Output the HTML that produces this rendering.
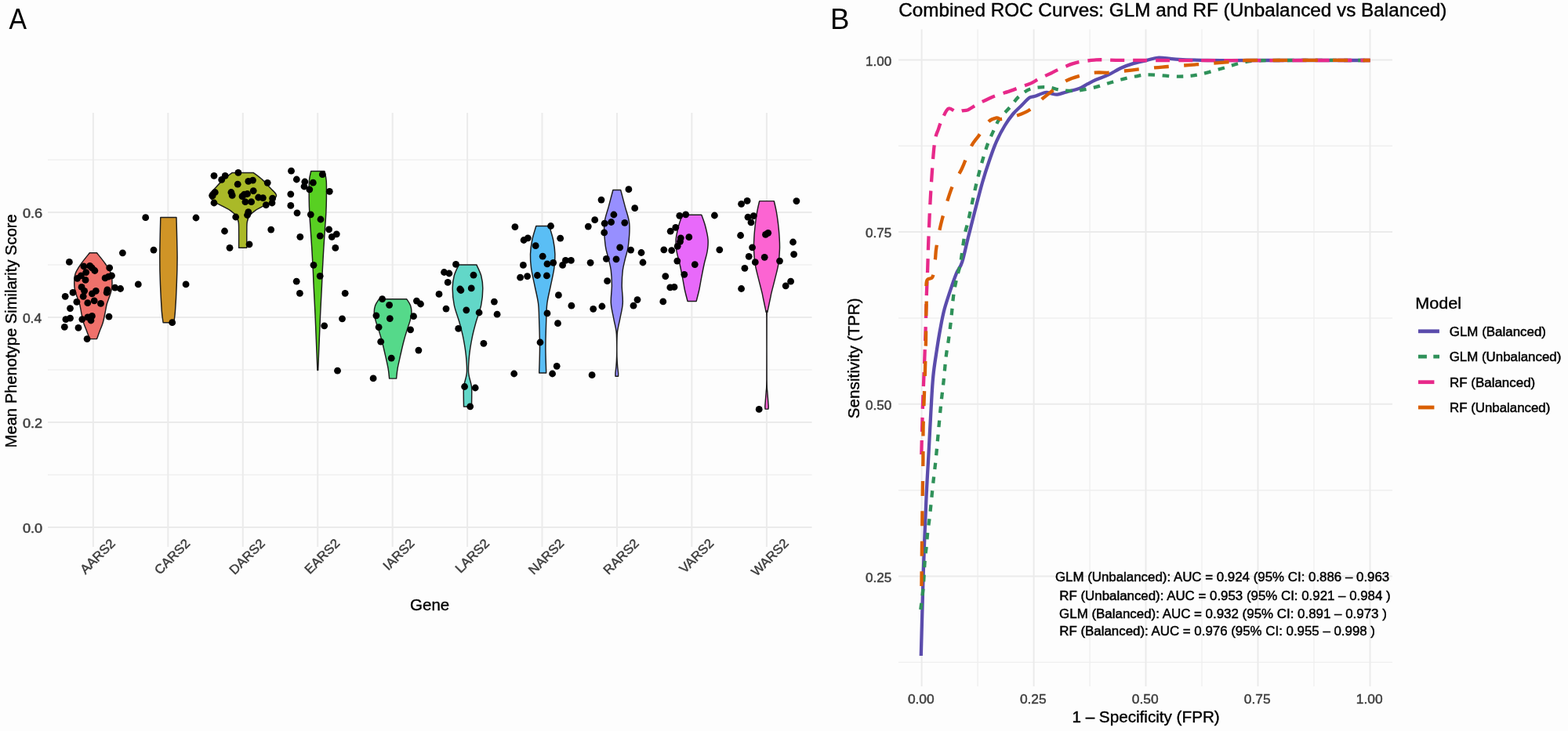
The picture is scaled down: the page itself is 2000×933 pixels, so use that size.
<!DOCTYPE html>
<html><head><meta charset="utf-8"><title>Figure</title>
<style>
html,body{margin:0;padding:0;background:#fdfdfd;}
body{width:2000px;height:933px;overflow:hidden;}
svg{display:block;}
</style></head>
<body>
<svg width="2000" height="933" viewBox="0 0 2000 933">
<rect width="2000" height="933" fill="#fdfdfd"/>
<g shape-rendering="auto">
<line x1="61" y1="606" x2="1035.5" y2="606" stroke="#EFEFEF" stroke-width="1.4"/>
<line x1="61" y1="472" x2="1035.5" y2="472" stroke="#EFEFEF" stroke-width="1.4"/>
<line x1="61" y1="338" x2="1035.5" y2="338" stroke="#EFEFEF" stroke-width="1.4"/>
<line x1="61" y1="204" x2="1035.5" y2="204" stroke="#EFEFEF" stroke-width="1.4"/>
<line x1="61" y1="673" x2="1035.5" y2="673" stroke="#EBEBEB" stroke-width="2"/>
<line x1="61" y1="539" x2="1035.5" y2="539" stroke="#EBEBEB" stroke-width="2"/>
<line x1="61" y1="405" x2="1035.5" y2="405" stroke="#EBEBEB" stroke-width="2"/>
<line x1="61" y1="271" x2="1035.5" y2="271" stroke="#EBEBEB" stroke-width="2"/>
<line x1="118.9" y1="144" x2="118.9" y2="698" stroke="#EBEBEB" stroke-width="2"/>
<line x1="214.3" y1="144" x2="214.3" y2="698" stroke="#EBEBEB" stroke-width="2"/>
<line x1="309.8" y1="144" x2="309.8" y2="698" stroke="#EBEBEB" stroke-width="2"/>
<line x1="405.2" y1="144" x2="405.2" y2="698" stroke="#EBEBEB" stroke-width="2"/>
<line x1="500.7" y1="144" x2="500.7" y2="698" stroke="#EBEBEB" stroke-width="2"/>
<line x1="596.1" y1="144" x2="596.1" y2="698" stroke="#EBEBEB" stroke-width="2"/>
<line x1="691.5" y1="144" x2="691.5" y2="698" stroke="#EBEBEB" stroke-width="2"/>
<line x1="787" y1="144" x2="787" y2="698" stroke="#EBEBEB" stroke-width="2"/>
<line x1="882.4" y1="144" x2="882.4" y2="698" stroke="#EBEBEB" stroke-width="2"/>
<line x1="977.9" y1="144" x2="977.9" y2="698" stroke="#EBEBEB" stroke-width="2"/>
</g>
<g stroke="#1c1c1c" stroke-width="1.45" stroke-linejoin="round">
<path d="M123.5,322.8 C125.3,325.1 131.1,332 134.2,336.5 C137.3,341 140.5,345.1 141.9,350 C143.3,354.9 143.1,361.4 142.9,365.7 C142.7,370 141.6,372.3 140.5,376 C139.4,379.7 137.4,384 136.3,388 C135.2,392 134.8,396 133.9,400 C133.1,404 132.3,408.3 131.2,412 C130.1,415.7 128.7,418.6 127.4,422 C126.1,425.4 124.2,430.8 123.5,432.6 L114.3,432.6 C113.7,430.8 111.7,425.4 110.4,422 C109.1,418.6 107.7,415.7 106.6,412 C105.5,408.3 104.8,404 103.9,400 C103.1,396 102.6,392 101.5,388 C100.4,384 98.4,379.7 97.3,376 C96.2,372.3 95.1,370 94.9,365.7 C94.7,361.4 94.5,354.9 95.9,350 C97.4,345.1 100.5,341 103.6,336.5 C106.7,332 112.5,325.1 114.3,322.8 Z" fill="#EF716B"/>
<path d="M225,277.5 C225.2,286 226,314.4 226.1,328.6 C226.1,342.8 225.8,351.5 225.3,362.9 C224.9,374.3 224.1,389 223.5,397.1 C222.9,405.2 222,409.3 221.8,411.7 L208.1,411.7 C207.8,409.3 206.9,405.2 206.3,397.1 C205.8,389 204.9,374.3 204.5,362.9 C204,351.5 203.7,342.8 203.8,328.6 C203.8,314.4 204.6,286 204.8,277.5 Z" fill="#D09426"/>
<path d="M323.2,220.4 C325.1,221.9 331.1,226.1 334.7,229.4 C338.3,232.7 342.1,237 345.1,240.3 C348.1,243.6 352.3,246.5 352.5,249.3 C352.7,252.1 349,254.9 346.3,257.2 C343.6,259.5 339.6,261 336.2,262.9 C332.8,264.8 328.7,266.5 325.7,268.6 C322.7,270.7 319.9,273 318.2,275.5 C316.4,278 315.8,280.2 315.2,283.5 C314.6,286.8 314.9,289.5 314.8,295 C314.7,300.5 314.8,312.8 314.8,316.3 L304.6,316.3 C304.6,312.8 304.7,300.5 304.6,295 C304.5,289.5 304.8,286.8 304.2,283.5 C303.6,280.2 302.9,278 301.2,275.5 C299.4,273 296.7,270.7 293.7,268.6 C290.7,266.5 286.6,264.8 283.2,262.9 C279.8,261 275.8,259.5 273.1,257.2 C270.4,254.9 266.7,252.1 266.9,249.3 C267.1,246.5 271.3,243.6 274.3,240.3 C277.3,237 281.1,232.7 284.7,229.4 C288.3,226.1 294.3,221.9 296.2,220.4 Z" fill="#AAB928"/>
<path d="M413.9,218.5 C414.3,220.5 415.8,225.2 416.2,230.5 C416.6,235.8 416.5,243 416.4,250 C416.4,257 416.2,265.1 415.8,272.6 C415.4,280.1 414.8,287.5 414.3,295 C413.8,302.5 413.3,309.3 412.8,317.6 C412.3,325.9 411.7,337.2 411.3,345 C410.9,352.8 411,354.5 410.5,364.3 C410,374.1 409,392.4 408.5,403.8 C408,415.2 407.8,421.6 407.3,433 C406.8,444.4 406,465.8 405.7,472.4 L404.9,472.4 C404.6,465.8 403.8,444.4 403.3,433 C402.8,421.6 402.6,415.2 402.1,403.8 C401.6,392.4 400.6,374.1 400.1,364.3 C399.6,354.5 399.7,352.8 399.3,345 C398.9,337.2 398.3,325.9 397.8,317.6 C397.3,309.3 396.8,302.5 396.3,295 C395.8,287.5 395.2,280.1 394.8,272.6 C394.4,265.1 394.2,257 394.2,250 C394.1,243 394,235.8 394.4,230.5 C394.8,225.2 396.3,220.5 396.7,218.5 Z" fill="#58D022"/>
<path d="M518.8,381.8 C519.6,383.1 522.6,387 523.6,389.9 C524.6,392.8 525,395.7 524.9,399 C524.8,402.3 523.9,406.2 522.9,409.9 C521.9,413.6 520.5,416.9 519.1,421.4 C517.7,425.9 516,431.6 514.6,437 C513.2,442.4 512,448.1 510.7,453.6 C509.5,459.2 508,465.4 507.1,470.3 C506.2,475.2 505.9,481 505.6,483.1 L496.6,483.1 C496.4,481 496,475.2 495.1,470.3 C494.2,465.4 492.8,459.2 491.5,453.6 C490.2,448.1 489,442.4 487.6,437 C486.2,431.6 484.5,425.9 483.1,421.4 C481.7,416.9 480.3,413.6 479.3,409.9 C478.3,406.2 477.4,402.3 477.3,399 C477.2,395.7 477.6,392.8 478.6,389.9 C479.6,387 482.6,383.1 483.4,381.8 Z" fill="#55D98A"/>
<path d="M607.8,337.9 C608.8,340.2 612.4,346.8 613.7,351.8 C615,356.8 615.8,361.6 615.8,367.9 C615.8,374.2 615.1,382.2 613.7,389.4 C612.3,396.5 609.2,403.6 607.2,410.8 C605.2,418 603.3,425.1 601.9,432.3 C600.5,439.5 599.3,446.7 598.6,453.8 C597.9,460.9 597.2,468.8 597.6,475.2 C598,481.6 600.6,487.4 601.3,492.4 C602,497.4 601.7,500.6 601.7,505 C601.7,509.4 601.5,516.7 601.5,519 L591.5,519 C591.5,516.7 591.3,509.4 591.3,505 C591.3,500.6 591,497.4 591.7,492.4 C592.4,487.4 595,481.6 595.4,475.2 C595.8,468.8 595.1,460.9 594.4,453.8 C593.7,446.7 592.5,439.5 591.1,432.3 C589.7,425.1 587.8,418 585.8,410.8 C583.8,403.6 580.7,396.5 579.3,389.4 C577.9,382.2 577.2,374.2 577.2,367.9 C577.2,361.6 578,356.8 579.3,351.8 C580.6,346.8 584.2,340.2 585.2,337.9 Z" fill="#62D7C8"/>
<path d="M700.6,288.5 C701.5,291.5 704.5,300.5 705.7,306.5 C706.9,312.5 707.7,318.5 707.9,324.5 C708.1,330.5 707.7,335.8 706.8,342.5 C705.9,349.2 703.8,357.5 702.3,365 C700.8,372.5 698.7,380 697.8,387.5 C696.9,395 697,400.6 696.7,410 C696.4,419.4 695.9,432.7 695.9,443.7 C695.9,454.7 696.6,470.6 696.7,476 L687.7,476 C687.8,470.6 688.5,454.7 688.5,443.7 C688.5,432.7 688,419.4 687.7,410 C687.4,400.6 687.5,395 686.6,387.5 C685.7,380 683.6,372.5 682.1,365 C680.6,357.5 678.5,349.2 677.6,342.5 C676.7,335.8 676.3,330.5 676.5,324.5 C676.7,318.5 677.5,312.5 678.7,306.5 C679.9,300.5 683,291.5 683.8,288.5 Z" fill="#5ABEF5"/>
<path d="M791.7,242.5 C792.6,246 795.3,256.2 797.2,263.4 C799,270.6 802.1,277.3 802.8,285.7 C803.5,294.1 802.3,306.2 801.4,313.6 C800.5,321 798.7,324.8 797.5,330 C796.3,335.2 795,339.3 794.3,345 C793.6,350.7 793.2,357.4 793.2,364.3 C793.2,371.2 794.7,379.5 794.3,386.7 C793.9,393.9 791.8,401.3 790.7,407.3 C789.6,413.3 788.2,418.1 787.6,422.7 C787,427.3 787.1,429.6 786.9,435 C786.8,440.4 786.8,449.5 786.9,455 C787.1,460.5 787.4,464.5 787.7,468 C788,471.5 788.4,474 788.6,476 C788.7,478 788.6,479.5 788.6,480.2 L785,480.2 C785,479.5 784.9,478 785,476 C785.1,474 785.6,471.5 785.9,468 C786.2,464.5 786.5,460.5 786.6,455 C786.8,449.5 786.8,440.4 786.6,435 C786.5,429.6 786.6,427.3 786,422.7 C785.4,418.1 784,413.3 782.9,407.3 C781.8,401.3 779.7,393.9 779.3,386.7 C778.9,379.5 780.4,371.2 780.4,364.3 C780.4,357.4 780,350.7 779.3,345 C778.6,339.3 777.3,335.2 776.1,330 C774.9,324.8 773.1,321 772.2,313.6 C771.3,306.2 770.1,294.1 770.8,285.7 C771.5,277.3 774.5,270.6 776.4,263.4 C778.2,256.2 781,246 781.9,242.5 Z" fill="#978FFF"/>
<path d="M894.8,274.2 C895.6,276.5 898.1,282.7 899.5,288 C900.9,293.3 902.7,300.5 903.1,306 C903.5,311.5 902.9,316 902.1,321 C901.3,326 899.6,330.7 898.4,336 C897.2,341.3 896.1,347.1 895,352.6 C893.9,358.1 893.1,363.7 892,369 C890.9,374.3 888.8,381.8 888.2,384.4 L877,384.4 C876.4,381.8 874.3,374.3 873.2,369 C872.1,363.7 871.3,358.1 870.2,352.6 C869.1,347.1 868,341.3 866.8,336 C865.6,330.7 863.9,326 863.1,321 C862.3,316 861.7,311.5 862.1,306 C862.5,300.5 864.3,293.3 865.7,288 C867.1,282.7 869.6,276.5 870.4,274.2 Z" fill="#E869FA"/>
<path d="M987.3,256.6 C987.8,258.7 989.2,264.3 990.1,269.1 C991,273.9 991.9,279.8 992.5,285.2 C993.1,290.6 993.7,295.9 994,301.3 C994.3,306.7 994.7,311.5 994.5,317.4 C994.3,323.3 993.8,330.5 992.9,336.7 C992,342.9 990.4,348.2 988.9,354.4 C987.4,360.6 985,369.4 984,373.7 C983,378 983.3,377.3 982.7,380 C982.1,382.7 981.2,387 980.6,390 C980,393 979.4,395.5 979,398 C978.6,400.5 978.3,390.5 978.1,405 C978,419.5 978,469.2 978.1,485 C978.3,500.8 978.5,495.5 978.8,500 C979.1,504.5 979.5,508.8 979.7,512 C979.9,515.2 980.2,517.3 980.2,519 C980.2,520.7 980,521.6 980,522.1 L976,522.1 C976,521.6 975.8,520.7 975.8,519 C975.8,517.3 976.1,515.2 976.3,512 C976.5,508.8 976.9,504.5 977.2,500 C977.5,495.5 977.7,500.8 977.9,485 C978,469.2 978,419.5 977.9,405 C977.7,390.5 977.4,400.5 977,398 C976.6,395.5 976,393 975.4,390 C974.8,387 973.9,382.7 973.3,380 C972.7,377.3 973,378 972,373.7 C971,369.4 968.6,360.6 967.1,354.4 C965.6,348.2 964,342.9 963.1,336.7 C962.2,330.5 961.7,323.3 961.5,317.4 C961.3,311.5 961.7,306.7 962,301.3 C962.3,295.9 962.9,290.6 963.5,285.2 C964.1,279.8 965,273.9 965.9,269.1 C966.8,264.3 968.2,258.7 968.7,256.6 Z" fill="#FC64D2"/>
</g>
<g fill="#000">
<circle cx="156.4" cy="322.8" r="4.4"/>
<circle cx="88.4" cy="334.4" r="4.4"/>
<circle cx="139.7" cy="341.8" r="4.4"/>
<circle cx="114.6" cy="339.3" r="4.4"/>
<circle cx="106.9" cy="340" r="4.4"/>
<circle cx="120.9" cy="345.5" r="4.4"/>
<circle cx="117.4" cy="342" r="4.4"/>
<circle cx="109.7" cy="347.6" r="4.4"/>
<circle cx="103.4" cy="351.8" r="4.4"/>
<circle cx="98.6" cy="355.3" r="4.4"/>
<circle cx="109" cy="357.4" r="4.4"/>
<circle cx="134.1" cy="354.9" r="4.4"/>
<circle cx="142.5" cy="351.8" r="4.4"/>
<circle cx="138.3" cy="353.2" r="4.4"/>
<circle cx="104.1" cy="366.4" r="4.4"/>
<circle cx="107.6" cy="371.3" r="4.4"/>
<circle cx="93" cy="373.4" r="4.4"/>
<circle cx="83.2" cy="378.3" r="4.4"/>
<circle cx="106.2" cy="378.3" r="4.4"/>
<circle cx="117.4" cy="374.8" r="4.4"/>
<circle cx="122.3" cy="371.3" r="4.4"/>
<circle cx="136.2" cy="373.4" r="4.4"/>
<circle cx="136.9" cy="369.9" r="4.4"/>
<circle cx="146.7" cy="367.1" r="4.4"/>
<circle cx="153.6" cy="368.5" r="4.4"/>
<circle cx="97.9" cy="385.3" r="4.4"/>
<circle cx="111.8" cy="386.7" r="4.4"/>
<circle cx="120.2" cy="383.9" r="4.4"/>
<circle cx="128.5" cy="387.4" r="4.4"/>
<circle cx="89.5" cy="393.6" r="4.4"/>
<circle cx="83.9" cy="407.6" r="4.4"/>
<circle cx="89.5" cy="406.2" r="4.4"/>
<circle cx="104.8" cy="407.6" r="4.4"/>
<circle cx="111.8" cy="404.8" r="4.4"/>
<circle cx="117.4" cy="403.4" r="4.4"/>
<circle cx="116" cy="409" r="4.4"/>
<circle cx="139" cy="404.1" r="4.4"/>
<circle cx="82.3" cy="417.3" r="4.4"/>
<circle cx="100" cy="418.4" r="4.4"/>
<circle cx="111.1" cy="432.6" r="4.4"/>
<circle cx="185.7" cy="277.7" r="4.4"/>
<circle cx="250" cy="278" r="4.4"/>
<circle cx="196" cy="319.1" r="4.4"/>
<circle cx="176.3" cy="362.9" r="4.4"/>
<circle cx="237.1" cy="362.9" r="4.4"/>
<circle cx="219.7" cy="411.7" r="4.4"/>
<circle cx="273" cy="224.3" r="4.4"/>
<circle cx="287.2" cy="224.3" r="4.4"/>
<circle cx="282.7" cy="229.4" r="4.4"/>
<circle cx="303.9" cy="220.4" r="4.4"/>
<circle cx="303.2" cy="235.2" r="4.4"/>
<circle cx="316.8" cy="231.4" r="4.4"/>
<circle cx="322.5" cy="230.1" r="4.4"/>
<circle cx="323.2" cy="243.6" r="4.4"/>
<circle cx="341.2" cy="233.3" r="4.4"/>
<circle cx="294.9" cy="245.5" r="4.4"/>
<circle cx="296.2" cy="249.4" r="4.4"/>
<circle cx="274.3" cy="245.5" r="4.4"/>
<circle cx="271.1" cy="250" r="4.4"/>
<circle cx="273" cy="259" r="4.4"/>
<circle cx="311.6" cy="248.1" r="4.4"/>
<circle cx="309" cy="250.7" r="4.4"/>
<circle cx="315.5" cy="247.5" r="4.4"/>
<circle cx="312.9" cy="257.7" r="4.4"/>
<circle cx="320.6" cy="257.7" r="4.4"/>
<circle cx="329.6" cy="252" r="4.4"/>
<circle cx="335.4" cy="252.6" r="4.4"/>
<circle cx="347.6" cy="253.2" r="4.4"/>
<circle cx="347" cy="259" r="4.4"/>
<circle cx="339.3" cy="261.6" r="4.4"/>
<circle cx="316.8" cy="270.6" r="4.4"/>
<circle cx="315.5" cy="274.5" r="4.4"/>
<circle cx="300.7" cy="277" r="4.4"/>
<circle cx="286.5" cy="295" r="4.4"/>
<circle cx="345.7" cy="293.1" r="4.4"/>
<circle cx="318" cy="311.8" r="4.4"/>
<circle cx="293" cy="316.3" r="4.4"/>
<circle cx="371.5" cy="218.2" r="4.4"/>
<circle cx="378.3" cy="229" r="4.4"/>
<circle cx="388.8" cy="232" r="4.4"/>
<circle cx="388" cy="238" r="4.4"/>
<circle cx="394.8" cy="241.8" r="4.4"/>
<circle cx="399.3" cy="233.2" r="4.4"/>
<circle cx="411.3" cy="222.7" r="4.4"/>
<circle cx="420.3" cy="244.3" r="4.4"/>
<circle cx="370.8" cy="247.8" r="4.4"/>
<circle cx="370.8" cy="262.4" r="4.4"/>
<circle cx="379" cy="271.8" r="4.4"/>
<circle cx="396.3" cy="273.8" r="4.4"/>
<circle cx="409" cy="280" r="4.4"/>
<circle cx="419.6" cy="292.8" r="4.4"/>
<circle cx="429.3" cy="298.8" r="4.4"/>
<circle cx="423.3" cy="302.3" r="4.4"/>
<circle cx="382.8" cy="302.3" r="4.4"/>
<circle cx="408.3" cy="301.1" r="4.4"/>
<circle cx="427.8" cy="316.4" r="4.4"/>
<circle cx="400" cy="338.3" r="4.4"/>
<circle cx="408.2" cy="352.3" r="4.4"/>
<circle cx="378.2" cy="359.2" r="4.4"/>
<circle cx="382.4" cy="374.3" r="4.4"/>
<circle cx="440.2" cy="374.3" r="4.4"/>
<circle cx="436.5" cy="406.8" r="4.4"/>
<circle cx="413.7" cy="415.8" r="4.4"/>
<circle cx="430.5" cy="473.2" r="4.4"/>
<circle cx="487.6" cy="381.6" r="4.4"/>
<circle cx="496.6" cy="389.3" r="4.4"/>
<circle cx="531.4" cy="384.1" r="4.4"/>
<circle cx="536.5" cy="388" r="4.4"/>
<circle cx="479.9" cy="402.8" r="4.4"/>
<circle cx="497.3" cy="406.6" r="4.4"/>
<circle cx="527.5" cy="403.7" r="4.4"/>
<circle cx="483.1" cy="417.6" r="4.4"/>
<circle cx="523.6" cy="420.8" r="4.4"/>
<circle cx="485.7" cy="436.2" r="4.4"/>
<circle cx="533.9" cy="447.1" r="4.4"/>
<circle cx="499.2" cy="457.2" r="4.4"/>
<circle cx="476.1" cy="482.9" r="4.4"/>
<circle cx="581.5" cy="337.4" r="4.4"/>
<circle cx="566.5" cy="347.5" r="4.4"/>
<circle cx="572.9" cy="349" r="4.4"/>
<circle cx="604" cy="351.2" r="4.4"/>
<circle cx="571.2" cy="360.4" r="4.4"/>
<circle cx="586.8" cy="369" r="4.4"/>
<circle cx="587.9" cy="370.5" r="4.4"/>
<circle cx="601.2" cy="367.9" r="4.4"/>
<circle cx="560" cy="375.4" r="4.4"/>
<circle cx="630.4" cy="385.1" r="4.4"/>
<circle cx="569" cy="394.1" r="4.4"/>
<circle cx="594.8" cy="395.8" r="4.4"/>
<circle cx="611.1" cy="399" r="4.4"/>
<circle cx="634.1" cy="401.2" r="4.4"/>
<circle cx="584.7" cy="419.4" r="4.4"/>
<circle cx="616.9" cy="438.3" r="4.4"/>
<circle cx="592.6" cy="493.5" r="4.4"/>
<circle cx="606.2" cy="495" r="4.4"/>
<circle cx="599.7" cy="518.8" r="4.4"/>
<circle cx="656.9" cy="289.6" r="4.4"/>
<circle cx="702.5" cy="288.5" r="4.4"/>
<circle cx="668.1" cy="306.5" r="4.4"/>
<circle cx="673.3" cy="303.8" r="4.4"/>
<circle cx="714.7" cy="304.2" r="4.4"/>
<circle cx="683.2" cy="313.7" r="4.4"/>
<circle cx="692.2" cy="327.2" r="4.4"/>
<circle cx="667.4" cy="338.4" r="4.4"/>
<circle cx="698" cy="336.9" r="4.4"/>
<circle cx="705.7" cy="335.3" r="4.4"/>
<circle cx="717.6" cy="338.4" r="4.4"/>
<circle cx="721.4" cy="332.4" r="4.4"/>
<circle cx="728.4" cy="332.4" r="4.4"/>
<circle cx="663.6" cy="354.2" r="4.4"/>
<circle cx="672.6" cy="352.6" r="4.4"/>
<circle cx="685.4" cy="351.5" r="4.4"/>
<circle cx="697.4" cy="351.9" r="4.4"/>
<circle cx="712.4" cy="376.7" r="4.4"/>
<circle cx="728.9" cy="390.2" r="4.4"/>
<circle cx="698" cy="399.9" r="4.4"/>
<circle cx="711.5" cy="412.7" r="4.4"/>
<circle cx="689" cy="437" r="4.4"/>
<circle cx="710.2" cy="467.3" r="4.4"/>
<circle cx="704.6" cy="477" r="4.4"/>
<circle cx="655.7" cy="477" r="4.4"/>
<circle cx="801.9" cy="241.7" r="4.4"/>
<circle cx="767" cy="255.1" r="4.4"/>
<circle cx="809.7" cy="265.7" r="4.4"/>
<circle cx="782.9" cy="274" r="4.4"/>
<circle cx="758.7" cy="280.7" r="4.4"/>
<circle cx="771.2" cy="285.2" r="4.4"/>
<circle cx="779.6" cy="283.5" r="4.4"/>
<circle cx="796.8" cy="284.3" r="4.4"/>
<circle cx="750.3" cy="289.1" r="4.4"/>
<circle cx="770.7" cy="296.9" r="4.4"/>
<circle cx="790.7" cy="315.8" r="4.4"/>
<circle cx="804.6" cy="319.1" r="4.4"/>
<circle cx="818" cy="322.5" r="4.4"/>
<circle cx="773.4" cy="330.3" r="4.4"/>
<circle cx="786" cy="330.8" r="4.4"/>
<circle cx="753.1" cy="335.3" r="4.4"/>
<circle cx="820" cy="335" r="4.4"/>
<circle cx="774.6" cy="358.7" r="4.4"/>
<circle cx="813" cy="382.6" r="4.4"/>
<circle cx="808" cy="390.2" r="4.4"/>
<circle cx="767.9" cy="391" r="4.4"/>
<circle cx="756.7" cy="394.3" r="4.4"/>
<circle cx="755.1" cy="478.7" r="4.4"/>
<circle cx="866.8" cy="275.3" r="4.4"/>
<circle cx="874.7" cy="273.8" r="4.4"/>
<circle cx="911.4" cy="275" r="4.4"/>
<circle cx="861.8" cy="290.3" r="4.4"/>
<circle cx="855.2" cy="295.2" r="4.4"/>
<circle cx="868.3" cy="303.8" r="4.4"/>
<circle cx="878.8" cy="302.7" r="4.4"/>
<circle cx="867.5" cy="308.3" r="4.4"/>
<circle cx="864.2" cy="314.3" r="4.4"/>
<circle cx="846.8" cy="318.8" r="4.4"/>
<circle cx="856.7" cy="319.6" r="4.4"/>
<circle cx="917.8" cy="318.8" r="4.4"/>
<circle cx="863.8" cy="333.1" r="4.4"/>
<circle cx="886.3" cy="337.6" r="4.4"/>
<circle cx="872.8" cy="350.3" r="4.4"/>
<circle cx="848.8" cy="352.6" r="4.4"/>
<circle cx="854.8" cy="366.9" r="4.4"/>
<circle cx="860" cy="366.4" r="4.4"/>
<circle cx="845.8" cy="384.9" r="4.4"/>
<circle cx="945.6" cy="260.3" r="4.4"/>
<circle cx="953.1" cy="256.3" r="4.4"/>
<circle cx="1015.9" cy="256.6" r="4.4"/>
<circle cx="954" cy="277.2" r="4.4"/>
<circle cx="961.2" cy="275.6" r="4.4"/>
<circle cx="958" cy="283.9" r="4.4"/>
<circle cx="944.6" cy="300.5" r="4.4"/>
<circle cx="976.5" cy="299.4" r="4.4"/>
<circle cx="979.7" cy="297.3" r="4.4"/>
<circle cx="1011.5" cy="309" r="4.4"/>
<circle cx="959.6" cy="315.8" r="4.4"/>
<circle cx="1012.6" cy="324.6" r="4.4"/>
<circle cx="955.2" cy="327.3" r="4.4"/>
<circle cx="975.2" cy="328.3" r="4.4"/>
<circle cx="963.3" cy="334.7" r="4.4"/>
<circle cx="994.5" cy="333.1" r="4.4"/>
<circle cx="949.9" cy="342.3" r="4.4"/>
<circle cx="1008.6" cy="359.2" r="4.4"/>
<circle cx="1002.2" cy="364.8" r="4.4"/>
<circle cx="945.6" cy="368.5" r="4.4"/>
<circle cx="968.2" cy="522.4" r="4.4"/>
</g>
<g>
<line x1="1146" y1="845.4" x2="1776" y2="845.4" stroke="#EFEFEF" stroke-width="1.4"/>
<line x1="1247.1" y1="37.5" x2="1247.1" y2="876" stroke="#EFEFEF" stroke-width="1.4"/>
<line x1="1146" y1="625.7" x2="1776" y2="625.7" stroke="#EFEFEF" stroke-width="1.4"/>
<line x1="1390.1" y1="37.5" x2="1390.1" y2="876" stroke="#EFEFEF" stroke-width="1.4"/>
<line x1="1146" y1="406" x2="1776" y2="406" stroke="#EFEFEF" stroke-width="1.4"/>
<line x1="1533" y1="37.5" x2="1533" y2="876" stroke="#EFEFEF" stroke-width="1.4"/>
<line x1="1146" y1="186.3" x2="1776" y2="186.3" stroke="#EFEFEF" stroke-width="1.4"/>
<line x1="1676" y1="37.5" x2="1676" y2="876" stroke="#EFEFEF" stroke-width="1.4"/>
<line x1="1146" y1="735.5" x2="1776" y2="735.5" stroke="#EBEBEB" stroke-width="2"/>
<line x1="1146" y1="515.8" x2="1776" y2="515.8" stroke="#EBEBEB" stroke-width="2"/>
<line x1="1146" y1="296.1" x2="1776" y2="296.1" stroke="#EBEBEB" stroke-width="2"/>
<line x1="1146" y1="76.4" x2="1776" y2="76.4" stroke="#EBEBEB" stroke-width="2"/>
<line x1="1175.6" y1="37.5" x2="1175.6" y2="876" stroke="#EBEBEB" stroke-width="2"/>
<line x1="1318.6" y1="37.5" x2="1318.6" y2="876" stroke="#EBEBEB" stroke-width="2"/>
<line x1="1461.5" y1="37.5" x2="1461.5" y2="876" stroke="#EBEBEB" stroke-width="2"/>
<line x1="1604.5" y1="37.5" x2="1604.5" y2="876" stroke="#EBEBEB" stroke-width="2"/>
<line x1="1747.5" y1="37.5" x2="1747.5" y2="876" stroke="#EBEBEB" stroke-width="2"/>
</g>
<g fill="none" stroke-width="4.3" stroke-linejoin="round">
<path d="M1174.8,837 C1175.3,820 1176.8,761.2 1177.6,735 C1178.4,708.8 1178.9,697.5 1179.6,680 C1180.3,662.5 1180.9,646.2 1181.7,630 C1182.5,613.8 1183.3,600.8 1184.3,583 C1185.3,565.2 1186.5,540.2 1187.5,523 C1188.5,505.8 1189,492.8 1190.3,480 C1191.5,467.2 1193.5,456 1195,446 C1196.5,436 1197.7,428.6 1199.3,420 C1200.9,411.4 1202.2,403.6 1204.7,394.3 C1207.2,385 1211.6,372.2 1214.3,364.3 C1217,356.4 1218.5,352.2 1220.7,347.2 C1222.9,342.2 1224.7,342.2 1227.2,334.3 C1229.7,326.4 1231.4,316.9 1235.7,300 C1240,283.1 1248.3,249.7 1253,233 C1257.7,216.3 1260.6,208.8 1263.6,200 C1266.6,191.2 1268.1,187.1 1271.1,180.4 C1274.1,173.7 1278.2,165.9 1281.8,160 C1285.4,154.1 1288.9,149.3 1292.5,145 C1296.1,140.7 1299.9,137.7 1303.3,134.3 C1306.7,130.9 1310.2,126.6 1312.9,124.7 C1315.6,122.8 1315.8,124.1 1319.3,123 C1322.8,121.9 1330,118.6 1333.6,118 C1337.2,117.4 1338.6,119.1 1341.1,119.5 C1343.6,119.9 1345.4,121 1348.6,120.6 C1351.8,120.2 1355.8,118.5 1360.4,117.3 C1365.1,116 1372,114.8 1376.5,113.1 C1381,111.4 1383.6,109.1 1387.2,107.2 C1390.8,105.3 1393.4,103.8 1397.9,101.8 C1402.4,99.8 1408.7,97.9 1414,95.4 C1419.3,92.9 1424.7,89.2 1430,86.8 C1435.3,84.4 1440.7,82.5 1446.1,80.9 C1451.5,79.3 1456.9,78.3 1462.2,77.1 C1467.5,75.9 1471.7,73.8 1478,73.6 C1484.3,73.3 1489.7,75 1500,75.6 C1510.3,76.2 1523.3,76.8 1540,77 C1556.7,77.2 1565.4,77 1600,77 C1634.6,77 1723,77 1747.6,77" stroke="#5B4CAC" stroke-linecap="butt"/>
<path d="M1174.3,778 C1174.8,773.3 1176.7,760.4 1177.6,750 C1178.5,739.6 1179,724.7 1179.7,715.8 C1180.4,706.9 1181.2,702.5 1181.8,696.5 C1182.4,690.5 1182.5,686.4 1183.2,680 C1183.9,673.6 1184.9,667.8 1186,658 C1187.1,648.2 1188.4,634 1189.7,621.5 C1191,609 1192.4,599 1194,582.9 C1195.6,566.8 1197.7,541.1 1199.3,525 C1200.9,508.9 1202.3,498.2 1203.6,486.4 C1204.8,474.6 1205.7,463.2 1206.8,454.3 C1207.9,445.4 1208.9,440.9 1210,433 C1211.1,425.1 1212.1,416.9 1213.2,407.2 C1214.3,397.5 1215.2,383.9 1216.5,375 C1217.8,366.1 1219.3,360 1220.7,353.6 C1222.1,347.2 1223.4,345.3 1225,336.4 C1226.6,327.5 1228.7,309.2 1230.4,300 C1232.1,290.8 1232.5,292.7 1235.2,281 C1237.9,269.3 1242.7,245 1246.5,229.7 C1250.3,214.4 1254.6,199.4 1258,189 C1261.4,178.6 1264.2,173.8 1267,167.5 C1269.8,161.2 1271.5,156.6 1275,151.5 C1278.5,146.4 1283.7,141.9 1288,137 C1292.3,132.1 1295.9,126.3 1300.6,122.3 C1305.3,118.3 1310.1,114.8 1316,113 C1321.9,111.2 1329.7,110.9 1336,111.3 C1342.3,111.7 1347.8,114.5 1354,115.2 C1360.2,115.9 1366.8,116.2 1373.2,115.7 C1379.6,115.2 1386.2,113.9 1392.5,112.5 C1398.8,111.1 1404.7,109 1410.8,107.2 C1416.9,105.4 1422.8,103.4 1429,101.8 C1435.2,100.2 1442,98.6 1448.3,97.5 C1454.5,96.4 1457.2,95.4 1466.5,95.4 C1475.8,95.4 1493.4,97.7 1504,97.6 C1514.6,97.5 1520.7,96.8 1530,95 C1539.3,93.2 1551.7,89.3 1560,87 C1568.3,84.7 1573.3,82.6 1580,81 C1586.7,79.4 1590,78.3 1600,77.6 C1610,76.9 1615.4,77.1 1640,77 C1664.6,76.9 1729.7,77 1747.6,77" stroke="#2F9159" stroke-dasharray="8.5 9.5" stroke-linecap="butt"/>
<path d="M1175.3,580 C1175.5,570.5 1176.4,537.5 1176.8,523 C1177.2,508.5 1177.4,505.2 1177.9,493 C1178.4,480.8 1179.1,464.3 1179.6,450 C1180.1,435.7 1180.7,418.8 1181,407 C1181.3,395.2 1181.3,390 1181.7,379.3 C1182.1,368.6 1182.8,354.9 1183.2,342.9 C1183.6,330.9 1183.7,323.1 1184.3,307.5 C1184.9,291.9 1185.8,269.5 1187,249 C1188.2,228.5 1190.1,198.8 1191.8,184.7 C1193.5,170.6 1195.3,170 1197.1,164.3 C1198.9,158.6 1200.3,154.7 1202.5,150.4 C1204.7,146.1 1207.1,139.8 1210,138.6 C1212.9,137.3 1216.8,142.4 1219.7,142.9 C1222.6,143.4 1224.7,141.8 1227.2,141.3 C1229.7,140.9 1231.5,141.5 1234.7,140.2 C1237.9,138.8 1242,135.6 1246.5,133.2 C1251,130.8 1257.2,127.7 1261.5,125.7 C1265.8,123.7 1267.7,123 1272.2,121.4 C1276.7,119.8 1284,117.6 1288.3,116.1 C1292.6,114.6 1293.7,114.2 1298.2,112.5 C1302.7,110.8 1310.9,108.1 1315.4,106.1 C1319.9,104.1 1320.7,102.8 1325,100.7 C1329.3,98.6 1336.8,95.2 1341.1,93.2 C1345.4,91.2 1346.2,90.4 1350.7,88.4 C1355.2,86.4 1363.2,83 1367.9,81.4 C1372.6,79.8 1373.9,79.6 1378.6,78.8 C1383.2,78 1390.8,77 1395.8,76.6 C1400.8,76.2 1397.9,76.2 1408.6,76.3 C1419.3,76.4 1403.5,76.9 1460,77 C1516.5,77.1 1699.7,77 1747.6,77" stroke="#E7298A" stroke-dasharray="18 11" stroke-linecap="butt"/>
<path d="M1175.4,748 C1175.5,735.5 1176,693.4 1176.2,673 C1176.4,652.6 1176.6,640.1 1176.8,625.8 C1177,611.5 1177.3,600.6 1177.4,587 C1177.5,573.4 1177.3,558.6 1177.6,544.3 C1177.9,530 1178.6,513.5 1179,501.4 C1179.4,489.3 1179.7,482.9 1180,471.5 C1180.3,460.1 1180.8,444.4 1181,433 C1181.2,421.6 1181.1,410.8 1181.2,402.9 C1181.3,395 1181.6,393 1181.7,385.7 C1181.8,378.4 1180.7,364.4 1182,359 C1183.3,353.6 1187.9,357.7 1189.7,353 C1191.5,348.3 1192.1,337.3 1192.9,331 C1193.7,324.7 1193.1,323.3 1194.5,315 C1195.9,306.7 1198.1,293.7 1201.4,281 C1204.7,268.3 1210,250 1214.3,239 C1218.6,228 1223,223.6 1227,215 C1231,206.4 1234.8,194.4 1238.4,187.4 C1242,180.4 1244.9,178.2 1248.6,172.9 C1252.3,167.6 1256.7,159.4 1260.4,155.7 C1264.2,151.9 1268.2,151 1271.1,150.4 C1273.9,149.8 1273,152.5 1277.5,152 C1282,151.5 1291.8,149.2 1297.9,147.2 C1304,145.1 1308.7,143.3 1314,139.7 C1319.3,136.1 1325.1,129.8 1330,125.7 C1334.9,121.6 1338.1,119 1343.2,115.2 C1348.3,111.4 1354.9,105.9 1360.4,102.9 C1366,99.9 1370.4,98.7 1376.5,97 C1382.6,95.3 1390.4,93.4 1396.8,92.7 C1403.2,92 1408.8,93.1 1415,92.7 C1421.2,92.3 1428,91.2 1434.3,90.5 C1440.6,89.8 1446.2,89.1 1452.6,88.4 C1459,87.7 1466.7,86.9 1472.9,86.3 C1479.1,85.7 1480.5,85.7 1490,85 C1499.5,84.3 1516.7,83 1530,82 C1543.3,81 1560,79.8 1570,79 C1580,78.2 1560.4,77.3 1590,77 C1619.6,76.7 1721.3,77 1747.6,77" stroke="#D95F02" stroke-dasharray="19 19.3" stroke-linecap="butt"/>
</g>
<line x1="1809" y1="422.8" x2="1835.9" y2="422.8" stroke="#5B4CAC" stroke-width="4.8"/>
<line x1="1809" y1="455.1" x2="1836" y2="455.1" stroke="#2F9159" stroke-width="4.8" stroke-dasharray="10.9 8.4"/>
<line x1="1809" y1="487.7" x2="1829.4" y2="487.7" stroke="#E7298A" stroke-width="4.8"/>
<line x1="1809" y1="520" x2="1829.4" y2="520" stroke="#D95F02" stroke-width="4.8"/>
<text x="11.6" y="36.7" font-family="'Liberation Sans', Arial, Helvetica, sans-serif" font-size="37.5" fill="#000" textLength="22.52" lengthAdjust="spacingAndGlyphs">A</text>
<text x="1059" y="36.7" font-family="'Liberation Sans', Arial, Helvetica, sans-serif" font-size="37.5" fill="#000" textLength="24.42" lengthAdjust="spacingAndGlyphs">B</text>
<text x="1146.2" y="21" font-family="'Liberation Sans', Arial, Helvetica, sans-serif" font-size="23.7" fill="#000" stroke="#000" stroke-width="0.40" textLength="699.27" lengthAdjust="spacingAndGlyphs">Combined ROC Curves: GLM and RF (Unbalanced vs Balanced)</text>
<text x="28.9" y="679.8" font-family="'Liberation Sans', Arial, Helvetica, sans-serif" font-size="15.8" fill="#3D3D3D" stroke="#3D3D3D" stroke-width="0.45" textLength="25.27" lengthAdjust="spacingAndGlyphs">0.0</text>
<text x="28.9" y="545.8" font-family="'Liberation Sans', Arial, Helvetica, sans-serif" font-size="15.8" fill="#3D3D3D" stroke="#3D3D3D" stroke-width="0.45" textLength="25.27" lengthAdjust="spacingAndGlyphs">0.2</text>
<text x="28.9" y="411.8" font-family="'Liberation Sans', Arial, Helvetica, sans-serif" font-size="15.8" fill="#3D3D3D" stroke="#3D3D3D" stroke-width="0.45" textLength="24.27" lengthAdjust="spacingAndGlyphs">0.4</text>
<text x="28.9" y="277.8" font-family="'Liberation Sans', Arial, Helvetica, sans-serif" font-size="15.8" fill="#3D3D3D" stroke="#3D3D3D" stroke-width="0.45" textLength="25.27" lengthAdjust="spacingAndGlyphs">0.6</text>
<text x="-55.2" y="0" transform="translate(147.9 694.5) rotate(-45)" font-family="'Liberation Sans', Arial, Helvetica, sans-serif" font-size="16.5" fill="#3D3D3D" stroke="#3D3D3D" stroke-width="0.45" textLength="55.17" lengthAdjust="spacingAndGlyphs">AARS2</text>
<text x="-56.1" y="0" transform="translate(243.3 694.5) rotate(-45)" font-family="'Liberation Sans', Arial, Helvetica, sans-serif" font-size="16.5" fill="#3D3D3D" stroke="#3D3D3D" stroke-width="0.45" textLength="56.09" lengthAdjust="spacingAndGlyphs">CARS2</text>
<text x="-56.1" y="0" transform="translate(338.8 694.5) rotate(-45)" font-family="'Liberation Sans', Arial, Helvetica, sans-serif" font-size="16.5" fill="#3D3D3D" stroke="#3D3D3D" stroke-width="0.45" textLength="56.09" lengthAdjust="spacingAndGlyphs">DARS2</text>
<text x="-55.1" y="0" transform="translate(434.2 694.5) rotate(-45)" font-family="'Liberation Sans', Arial, Helvetica, sans-serif" font-size="16.5" fill="#3D3D3D" stroke="#3D3D3D" stroke-width="0.45" textLength="55.15" lengthAdjust="spacingAndGlyphs">EARS2</text>
<text x="-48.6" y="0" transform="translate(529.7 694.5) rotate(-45)" font-family="'Liberation Sans', Arial, Helvetica, sans-serif" font-size="16.5" fill="#3D3D3D" stroke="#3D3D3D" stroke-width="0.45" textLength="48.61" lengthAdjust="spacingAndGlyphs">IARS2</text>
<text x="-53.3" y="0" transform="translate(625.1 694.5) rotate(-45)" font-family="'Liberation Sans', Arial, Helvetica, sans-serif" font-size="16.5" fill="#3D3D3D" stroke="#3D3D3D" stroke-width="0.45" textLength="53.28" lengthAdjust="spacingAndGlyphs">LARS2</text>
<text x="-56.1" y="0" transform="translate(720.5 694.5) rotate(-45)" font-family="'Liberation Sans', Arial, Helvetica, sans-serif" font-size="16.5" fill="#3D3D3D" stroke="#3D3D3D" stroke-width="0.45" textLength="56.09" lengthAdjust="spacingAndGlyphs">NARS2</text>
<text x="-56.1" y="0" transform="translate(816 694.5) rotate(-45)" font-family="'Liberation Sans', Arial, Helvetica, sans-serif" font-size="16.5" fill="#3D3D3D" stroke="#3D3D3D" stroke-width="0.45" textLength="56.09" lengthAdjust="spacingAndGlyphs">RARS2</text>
<text x="-53.9" y="0" transform="translate(911.4 694.5) rotate(-45)" font-family="'Liberation Sans', Arial, Helvetica, sans-serif" font-size="16.5" fill="#3D3D3D" stroke="#3D3D3D" stroke-width="0.45" textLength="53.93" lengthAdjust="spacingAndGlyphs">VARS2</text>
<text x="-59.2" y="0" transform="translate(1006.9 694.5) rotate(-45)" font-family="'Liberation Sans', Arial, Helvetica, sans-serif" font-size="16.5" fill="#3D3D3D" stroke="#3D3D3D" stroke-width="0.45" textLength="59.22" lengthAdjust="spacingAndGlyphs">WARS2</text>
<text x="523.1" y="778.5" font-family="'Liberation Sans', Arial, Helvetica, sans-serif" font-size="20.8" fill="#000" stroke="#000" stroke-width="0.40" textLength="50.19" lengthAdjust="spacingAndGlyphs">Gene</text>
<text x="-571.4" y="0" transform="translate(21.2 0) rotate(-90)" font-family="'Liberation Sans', Arial, Helvetica, sans-serif" font-size="20.8" fill="#000" stroke="#000" stroke-width="0.40" textLength="298.18" lengthAdjust="spacingAndGlyphs">Mean Phenotype Similarity Score</text>
<text x="1104.1" y="742.7" font-family="'Liberation Sans', Arial, Helvetica, sans-serif" font-size="16" fill="#3D3D3D" stroke="#3D3D3D" stroke-width="0.45" textLength="33.14" lengthAdjust="spacingAndGlyphs">0.25</text>
<text x="1104.1" y="523" font-family="'Liberation Sans', Arial, Helvetica, sans-serif" font-size="16" fill="#3D3D3D" stroke="#3D3D3D" stroke-width="0.45" textLength="33.14" lengthAdjust="spacingAndGlyphs">0.50</text>
<text x="1104.1" y="303.3" font-family="'Liberation Sans', Arial, Helvetica, sans-serif" font-size="16" fill="#3D3D3D" stroke="#3D3D3D" stroke-width="0.45" textLength="33.14" lengthAdjust="spacingAndGlyphs">0.75</text>
<text x="1104.1" y="83.6" font-family="'Liberation Sans', Arial, Helvetica, sans-serif" font-size="16" fill="#3D3D3D" stroke="#3D3D3D" stroke-width="0.45" textLength="33.14" lengthAdjust="spacingAndGlyphs">1.00</text>
<text x="1157.9" y="898.3" font-family="'Liberation Sans', Arial, Helvetica, sans-serif" font-size="16" fill="#3D3D3D" stroke="#3D3D3D" stroke-width="0.45" textLength="33.74" lengthAdjust="spacingAndGlyphs">0.00</text>
<text x="1300.9" y="898.3" font-family="'Liberation Sans', Arial, Helvetica, sans-serif" font-size="16" fill="#3D3D3D" stroke="#3D3D3D" stroke-width="0.45" textLength="33.74" lengthAdjust="spacingAndGlyphs">0.25</text>
<text x="1443.8" y="898.3" font-family="'Liberation Sans', Arial, Helvetica, sans-serif" font-size="16" fill="#3D3D3D" stroke="#3D3D3D" stroke-width="0.45" textLength="33.74" lengthAdjust="spacingAndGlyphs">0.50</text>
<text x="1586.8" y="898.3" font-family="'Liberation Sans', Arial, Helvetica, sans-serif" font-size="16" fill="#3D3D3D" stroke="#3D3D3D" stroke-width="0.45" textLength="33.74" lengthAdjust="spacingAndGlyphs">0.75</text>
<text x="1729.8" y="898.3" font-family="'Liberation Sans', Arial, Helvetica, sans-serif" font-size="16" fill="#3D3D3D" stroke="#3D3D3D" stroke-width="0.45" textLength="33.74" lengthAdjust="spacingAndGlyphs">1.00</text>
<text x="1367.4" y="921.6" font-family="'Liberation Sans', Arial, Helvetica, sans-serif" font-size="20.8" fill="#000" stroke="#000" stroke-width="0.40" textLength="188.33" lengthAdjust="spacingAndGlyphs">1 &#8211; Specificity (FPR)</text>
<text x="-534.3" y="0" transform="translate(1096 0) rotate(-90)" font-family="'Liberation Sans', Arial, Helvetica, sans-serif" font-size="20.8" fill="#000" stroke="#000" stroke-width="0.40" textLength="153.94" lengthAdjust="spacingAndGlyphs">Sensitivity (TPR)</text>
<text x="1345.9" y="742.1" font-family="'Liberation Sans', Arial, Helvetica, sans-serif" font-size="16" fill="#000" stroke="#000" stroke-width="0.45" textLength="426.33" lengthAdjust="spacingAndGlyphs">GLM (Unbalanced): AUC = 0.924 (95% CI: 0.886 &#8211; 0.963</text>
<text x="1351.3" y="765.9" font-family="'Liberation Sans', Arial, Helvetica, sans-serif" font-size="16" fill="#000" stroke="#000" stroke-width="0.45" textLength="422.37" lengthAdjust="spacingAndGlyphs">RF (Unbalanced): AUC = 0.953 (95% CI: 0.921 &#8211; 0.984 )</text>
<text x="1351.1" y="788.5" font-family="'Liberation Sans', Arial, Helvetica, sans-serif" font-size="16" fill="#000" stroke="#000" stroke-width="0.45" textLength="417.73" lengthAdjust="spacingAndGlyphs">GLM (Balanced): AUC = 0.932 (95% CI: 0.891 &#8211; 0.973 )</text>
<text x="1351.3" y="811.3" font-family="'Liberation Sans', Arial, Helvetica, sans-serif" font-size="16" fill="#000" stroke="#000" stroke-width="0.45" textLength="402.68" lengthAdjust="spacingAndGlyphs">RF (Balanced): AUC = 0.976 (95% CI: 0.955 &#8211; 0.998 )</text>
<text x="1805.3" y="394.4" font-family="'Liberation Sans', Arial, Helvetica, sans-serif" font-size="20.8" fill="#000" stroke="#000" stroke-width="0.40" textLength="58.76" lengthAdjust="spacingAndGlyphs">Model</text>
<text x="1848.8" y="428.5" font-family="'Liberation Sans', Arial, Helvetica, sans-serif" font-size="16" fill="#000" stroke="#000" stroke-width="0.45" textLength="123.20" lengthAdjust="spacingAndGlyphs">GLM (Balanced)</text>
<text x="1848.7" y="461.2" font-family="'Liberation Sans', Arial, Helvetica, sans-serif" font-size="16" fill="#000" stroke="#000" stroke-width="0.45" textLength="142.67" lengthAdjust="spacingAndGlyphs">GLM (Unbalanced)</text>
<text x="1849" y="493.6" font-family="'Liberation Sans', Arial, Helvetica, sans-serif" font-size="16" fill="#000" stroke="#000" stroke-width="0.45" textLength="109.26" lengthAdjust="spacingAndGlyphs">RF (Balanced)</text>
<text x="1849" y="526" font-family="'Liberation Sans', Arial, Helvetica, sans-serif" font-size="16" fill="#000" stroke="#000" stroke-width="0.45" textLength="128.33" lengthAdjust="spacingAndGlyphs">RF (Unbalanced)</text>
</svg>
</body></html>
